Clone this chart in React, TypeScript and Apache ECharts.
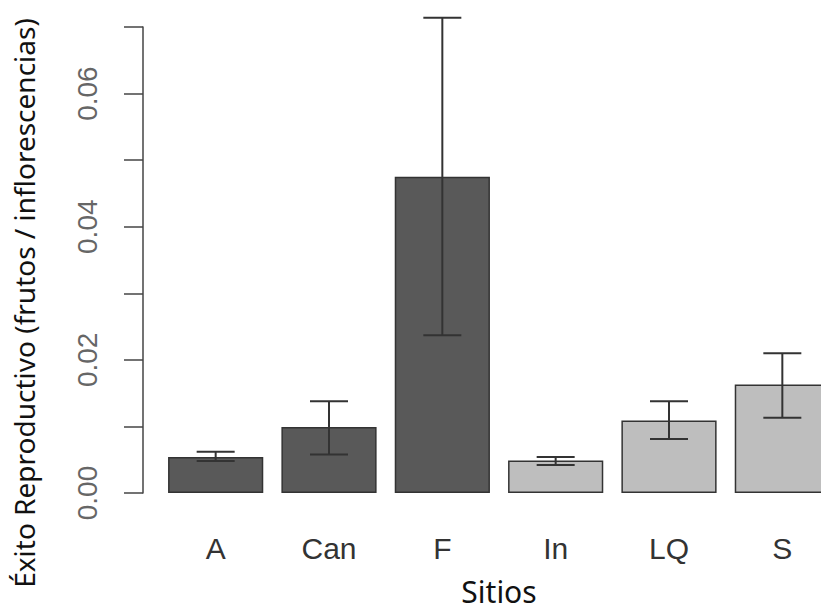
import React, { useEffect, useRef } from "react";
import * as echarts from "echarts";

const categories = ["A", "Can", "F", "In", "LQ", "S"];
const means = [0.0054, 0.0099, 0.0475, 0.0049, 0.0109, 0.0163];
const lower = [0.0048, 0.0058, 0.0237, 0.0042, 0.0081, 0.0113];
const upper = [0.0062, 0.0138, 0.0714, 0.0054, 0.0138, 0.0210];
const barColors = ["#595959", "#595959", "#595959", "#bebebe", "#bebebe", "#bebebe"];
const yMin = 0;
const yMax = 0.07;
const yStep = 0.01;

export default function App() {
  const ref = useRef<HTMLDivElement>(null);
  useEffect(() => {
    if (!ref.current) return;
    const chart = echarts.init(ref.current, null, { renderer: "svg" });
    chart.setOption({
      animation: false,
      backgroundColor: "#ffffff",
      grid: { left: 159, top: 27, height: 466, width: 680 },
      xAxis: {
        type: "category",
        data: categories,
        axisLine: { show: false },
        axisTick: { show: false },
        axisLabel: {
          margin: 40,
          fontSize: 30,
          fontFamily: "Liberation Sans",
          color: "#333333",
        },
      },
      yAxis: {
        type: "value",
        min: yMin,
        max: yMax,
        interval: yStep,
        offset: 16,
        splitLine: { show: false },
        axisLine: { show: true, lineStyle: { color: "#444444", width: 1.5 } },
        axisTick: { show: true, length: 19, lineStyle: { color: "#444444", width: 1.5 } },
        axisLabel: {
          rotate: 90,
          margin: 42,
          fontSize: 28,
          fontFamily: "Liberation Sans",
          color: "#666666",
          formatter: (v: number) => {
            const k = Math.round(v / yStep);
            return k % 2 === 0 ? v.toFixed(2) : "";
          },
        },
      },
      series: [
        {
          type: "bar",
          barCategoryGap: "16%",
          data: means.map((m, i) => ({
            value: m,
            itemStyle: { color: barColors[i], borderColor: "#333333", borderWidth: 1.5 },
          })),
        },
        {
          type: "custom",
          data: categories.map((_, i) => [i, lower[i], upper[i]]),
          renderItem: (params: any, api: any) => {
            const x = api.value(0);
            const lo = api.coord([x, api.value(1)]);
            const hi = api.coord([x, api.value(2)]);
            const hw = 19;
            const style = { stroke: "#333333", lineWidth: 2 };
            return {
              type: "group",
              children: [
                { type: "line", shape: { x1: lo[0], y1: lo[1], x2: hi[0], y2: hi[1] }, style },
                { type: "line", shape: { x1: lo[0] - hw, y1: lo[1], x2: lo[0] + hw, y2: lo[1] }, style },
                { type: "line", shape: { x1: hi[0] - hw, y1: hi[1], x2: hi[0] + hw, y2: hi[1] }, style },
              ],
            };
          },
          z: 5,
        },
      ],
      graphic: [
        {
          type: "text",
          x: 499,
          y: 591,
          style: {
            text: "Sitios",
            fontSize: 30,
            fontFamily: "Noto Sans",
            fill: "#111111",
            align: "center",
            verticalAlign: "middle",
          },
        },
        {
          type: "text",
          x: 24,
          y: 303,
          rotation: Math.PI / 2,
          style: {
            text: "Éxito Reproductivo (frutos / inflorescencias)",
            fontSize: 28,
            fontFamily: "Noto Sans",
            fill: "#111111",
            align: "center",
            verticalAlign: "middle",
          },
        },
      ],
    });
    return () => chart.dispose();
  }, []);
  return (
    <div style={{ position: "fixed", left: 0, top: 0, width: 821, height: 612, overflow: "hidden" }}>
      <div ref={ref} style={{ width: 860, height: 612 }} />
    </div>
  );
}
